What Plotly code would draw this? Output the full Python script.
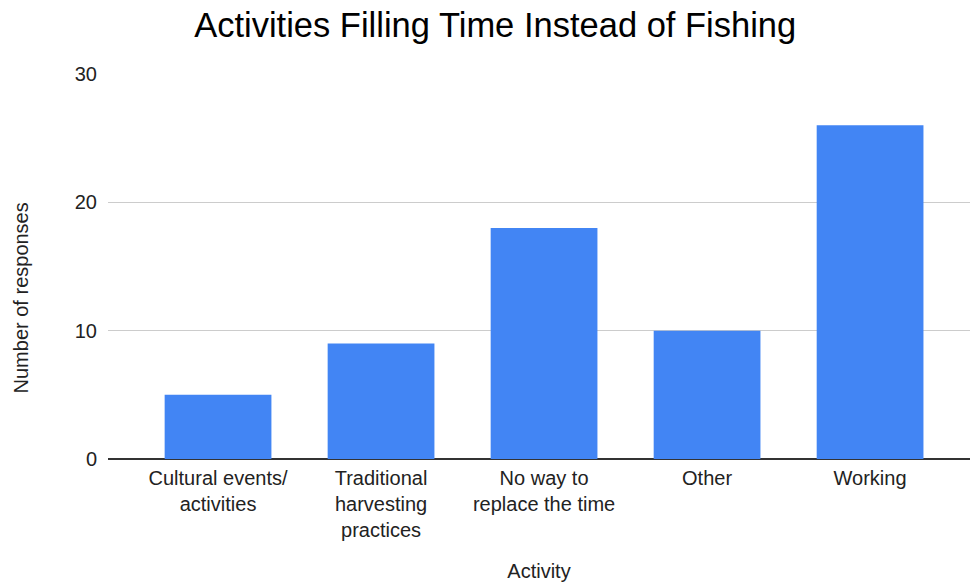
import plotly.graph_objects as go

# Survey responses: how people filled the time they used to spend fishing
activities = [
    "Cultural events/<br>activities",
    "Traditional<br>harvesting<br>practices",
    "No way to<br>replace the time",
    "Other",
    "Working",
]
responses = [5, 9, 18, 10, 26]
y_ticks = [0, 10, 20, 30]

FONT = "Arial, 'Liberation Sans', Helvetica, sans-serif"

fig = go.Figure(
    go.Bar(
        x=activities,
        y=responses,
        marker=dict(color="#4285F4", line=dict(width=0)),
        hoverinfo="x+y",
    )
)

fig.update_layout(
    width=971,
    height=586,
    margin=dict(l=108, r=1, t=74, b=127),
    paper_bgcolor="white",
    plot_bgcolor="white",
    bargap=0.345,
    showlegend=False,
    font=dict(family=FONT, size=20, color="#222222"),
    title=dict(
        text="Activities Filling Time Instead of Fishing",
        font=dict(family=FONT, size=34.5, color="#000000"),
        x=0.51,
        xanchor="center",
        y=0.958,
        yanchor="middle",
    ),
    # y-axis title drawn as a rotated annotation so it sits centred on the
    # whole chart block rather than only the plotting area
    annotations=[
        dict(
            text="Number of responses",
            xref="paper",
            yref="paper",
            x=0,
            xshift=-87,
            y=0.417,
            xanchor="center",
            yanchor="middle",
            textangle=-90,
            showarrow=False,
            font=dict(family=FONT, size=20, color="#222222"),
        )
    ],
)

fig.update_xaxes(
    range=[-0.675, 4.613],
    showgrid=False,
    showline=False,
    ticks="",
    ticklabelstandoff=5,
    tickfont=dict(family=FONT, size=20, color="#222222"),
    title=dict(text="Activity", font=dict(family=FONT, size=20, color="#222222"), standoff=23),
    automargin=False,
    fixedrange=True,
)

fig.update_yaxes(
    range=[0, 30],
    tickvals=y_ticks,
    showgrid=True,
    gridcolor="#cccccc",
    gridwidth=1,
    zeroline=True,
    zerolinecolor="#333333",
    zerolinewidth=1.5,
    showline=False,
    ticks="",
    ticklabelstandoff=10,
    tickfont=dict(family=FONT, size=20, color="#222222"),
    automargin=False,
    fixedrange=True,
)

fig.write_html("out.html")
